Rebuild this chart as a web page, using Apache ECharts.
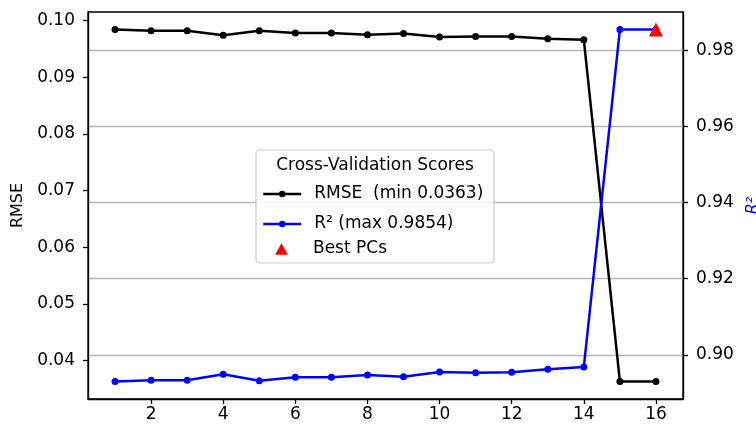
<!DOCTYPE html>
<html>
<head>
<meta charset="utf-8">
<script src="https://cdn.jsdelivr.net/npm/echarts@6/dist/echarts.min.js"></script>
<style>
  html, body { margin: 0; padding: 0; background: #ffffff; }
  #chart { width: 756px; height: 428px; }
</style>
</head>
<body>
<div id="chart"></div>
<script>
// Number of principal components tested
const components = [1, 2, 3, 4, 5, 6, 7, 8, 9, 10, 11, 12, 13, 14, 15, 16];
// Cross-validated RMSE per component count
const rmseScores = [0.0984, 0.0982, 0.0982, 0.0974, 0.0982, 0.0978, 0.0978, 0.0975,
                    0.0977, 0.0971, 0.0972, 0.0972, 0.0968, 0.0966, 0.0363, 0.0363];
// Cross-validated R² per component count
const r2Scores = [0.8930, 0.8933, 0.8933, 0.8949, 0.8932, 0.8941, 0.8941, 0.8947,
                  0.8942, 0.8955, 0.8953, 0.8954, 0.8962, 0.8968, 0.9854, 0.9854];
const bestComponent = 16;
const bestR2 = 0.9854;

const xTicks = [2, 4, 6, 8, 10, 12, 14, 16];
const rmseTicks = [0.04, 0.05, 0.06, 0.07, 0.08, 0.09, 0.10];
const r2Ticks = [0.90, 0.92, 0.94, 0.96, 0.98];

const legendTitle = 'Cross-Validation Scores';
const rmseName = 'RMSE  (min 0.0363)';
const r2Name = 'R² (max 0.9854)';
const bestName = 'Best PCs';

// 5% padding around the data extent on each axis
function padded(values) {
  const lo = Math.min(...values), hi = Math.max(...values);
  const m = (hi - lo) * 0.05;
  return [lo - m, hi + m];
}
const xRange = padded(components);
const rmseRange = padded(rmseScores);
const r2Range = padded(r2Scores.concat([bestR2]));

const FONT = 'DejaVu Sans';
const FS = 17;
const LINE_W = 2.5;

const chart = echarts.init(document.getElementById('chart'), null, { renderer: 'canvas' });

const axisLineStyle = { color: '#000', width: 1.3 };
const tickStyle = { color: '#000', width: 1.3 };
const TRIANGLE = 'path://M0,-6L6.2,5L-6.2,5Z';

// One legend row per entry so each row can be placed on its own
function legendRow(name, top, opts) {
  const o = opts || {};
  return {
    orient: 'vertical',
    left: o.left || 262, top: top,
    itemWidth: o.w || 38, itemHeight: o.h || 8,
    padding: 0,
    z: 20,
    symbolKeepAspect: true,
    selectedMode: false,
    lineStyle: { width: LINE_W },
    textStyle: { color: '#000', fontSize: FS, fontFamily: FONT, lineHeight: 20,
                 padding: [0, 0, 0, o.pad || 8] },
    data: [o.icon ? { name: name, icon: o.icon } : name]
  };
}

chart.setOption({
  animation: false,
  backgroundColor: '#ffffff',
  textStyle: { fontFamily: FONT },
  grid: {
    left: 88, right: 73, top: 12, bottom: 29,
    outerBoundsMode: 'none',
    containLabel: false,
    show: true, borderColor: '#000', borderWidth: 1.3, backgroundColor: 'transparent'
  },
  xAxis: {
    type: 'value',
    min: xRange[0], max: xRange[1],
    axisLine: { onZero: false, lineStyle: axisLineStyle },
    axisTick: { show: true, length: 5, inside: false, lineStyle: tickStyle, customValues: xTicks },
    axisLabel: { customValues: xTicks, color: '#000', fontSize: FS, fontFamily: FONT, margin: 7,
                 formatter: v => String(v) },
    splitLine: { show: false }
  },
  yAxis: [
    {
      type: 'value',
      position: 'left',
      min: rmseRange[0], max: rmseRange[1],
      name: 'RMSE', nameLocation: 'middle', nameGap: 61, nameRotate: 90,
      nameTextStyle: { color: '#000', fontSize: 16, fontFamily: FONT },
      axisLine: { show: true, onZero: false, lineStyle: axisLineStyle },
      axisTick: { show: true, length: 5, lineStyle: tickStyle, customValues: rmseTicks },
      axisLabel: { customValues: rmseTicks, color: '#000', fontSize: FS, fontFamily: FONT, margin: 13,
                   formatter: v => v.toFixed(2) },
      splitLine: { show: false }
    },
    {
      type: 'value',
      position: 'right',
      min: r2Range[0], max: r2Range[1],
      name: 'R²', nameLocation: 'middle', nameGap: 45, nameRotate: 90,
      nameTextStyle: { color: '#0000ff', fontSize: 16, fontFamily: FONT, fontStyle: 'italic' },
      axisLine: { show: true, onZero: false, lineStyle: axisLineStyle },
      axisTick: { show: true, length: 5, lineStyle: tickStyle, customValues: r2Ticks },
      axisLabel: { customValues: r2Ticks, color: '#000', fontSize: FS, fontFamily: FONT, margin: 13,
                   formatter: v => v.toFixed(2) },
      splitLine: { show: true, lineStyle: { color: '#b8b8b8', width: 1.3 } }
    }
  ],
  legend: [
    legendRow(rmseName, 184),
    legendRow(r2Name, 214),
    legendRow(bestName, 239, { icon: TRIANGLE, left: 275, w: 13, h: 12, pad: 20 })
  ],
  graphic: [
    {
      type: 'rect', z: 15,
      shape: { x: 256, y: 150, width: 238, height: 113, r: 4 },
      style: { fill: 'rgba(255,255,255,0.8)', stroke: '#cccccc', lineWidth: 1.2 }
    },
    {
      type: 'text', z: 16,
      x: 375, y: 166,
      style: { text: legendTitle, fill: '#000', font: FS + 'px "' + FONT + '"',
               align: 'center', verticalAlign: 'middle' }
    }
  ],
  series: [
    {
      name: rmseName,
      type: 'line', yAxisIndex: 0,
      data: components.map((c, i) => [c, rmseScores[i]]),
      symbol: 'circle', symbolSize: 7,
      color: '#000000',
      lineStyle: { color: '#000000', width: LINE_W },
      itemStyle: { color: '#000000' },
      z: 3
    },
    {
      name: r2Name,
      type: 'line', yAxisIndex: 1,
      data: components.map((c, i) => [c, r2Scores[i]]),
      symbol: 'circle', symbolSize: 7,
      color: '#0000ff',
      lineStyle: { color: '#0000ff', width: LINE_W },
      itemStyle: { color: '#0000ff' },
      z: 4
    },
    {
      name: bestName,
      type: 'scatter', yAxisIndex: 1,
      data: [[bestComponent, bestR2]],
      symbol: 'triangle', symbolSize: 14,
      color: '#ff0000',
      itemStyle: { color: '#ff0000', opacity: 1 },
      z: 5
    }
  ]
});
</script>
</body>
</html>
